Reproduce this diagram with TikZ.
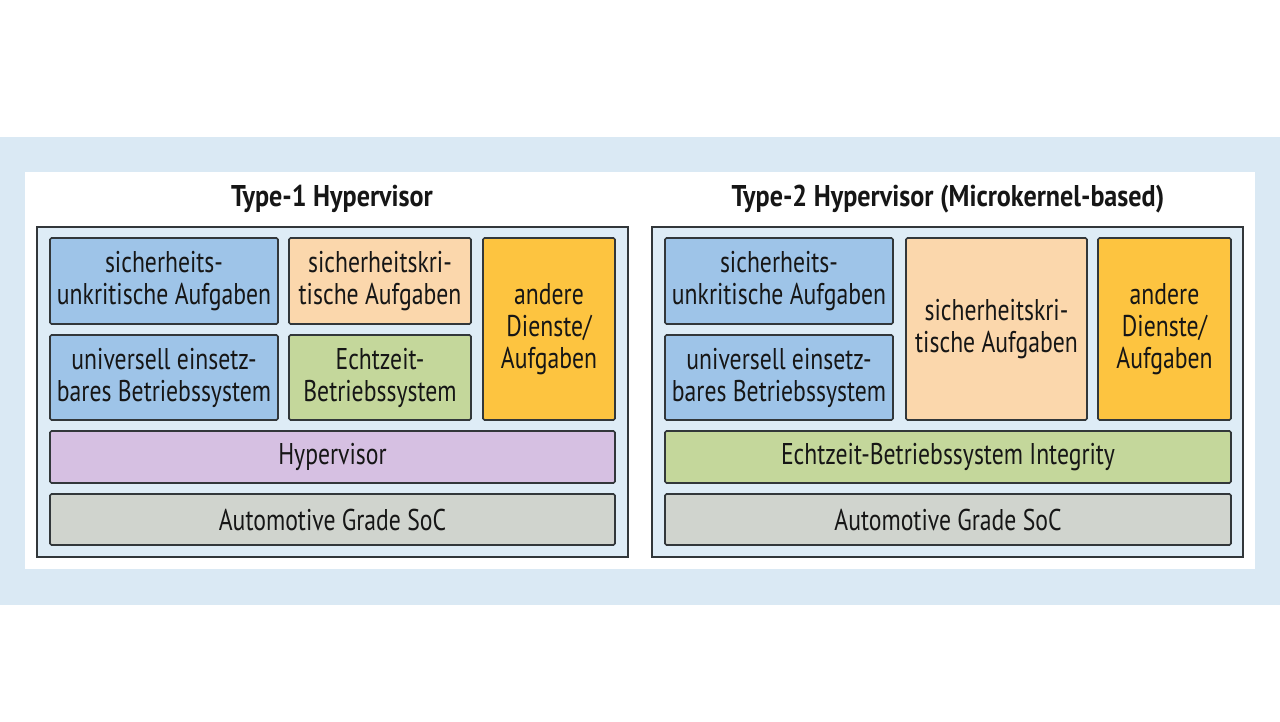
\documentclass[tikz,border=0pt]{standalone}
\usepackage{fontspec}
\setmainfont{PT Sans}[FakeStretch=0.79]
\newfontfamily\titlefont{PT Sans}[FakeStretch=0.87]
\definecolor{bandblue}{RGB}{218,233,244}
\definecolor{panelblue}{RGB}{222,236,246}
\definecolor{boxblue}{RGB}{158,196,232}
\definecolor{boxpeach}{RGB}{251,215,172}
\definecolor{boxorange}{RGB}{253,196,64}
\definecolor{boxgreen}{RGB}{196,215,155}
\definecolor{boxpurple}{RGB}{214,192,226}
\definecolor{boxgray}{RGB}{208,212,206}
\definecolor{edge}{RGB}{50,55,58}
\definecolor{ink}{RGB}{22,22,22}
\tikzset{
  panel/.style={draw=edge, line width=1.4pt, fill=panelblue, inner sep=0pt},
  blk/.style={draw=edge, line width=1.7pt, rounded corners=1.5pt, inner sep=0pt, align=center,
    text=ink, font=\fontsize{30}{32}\selectfont},
  ttl/.style={text=ink, font=\titlefont\fontsize{30}{32}\selectfont\bfseries, inner sep=0pt}
}
\begin{document}
\begin{tikzpicture}[x=1pt,y=-1pt]
\useasboundingbox (0,0) rectangle (1280,721);
\fill[white] (0,0) rectangle (1280,721);
\fill[bandblue] (0,137) rectangle (1280,605);
\fill[white] (25,172) rectangle (1255,569);
% titles
\node[ttl] (t1) at (332,199) {Type-1 Hypervisor};
\node[ttl] (t2) at (948,199) {Type-2 Hypervisor (Microkernel-based)};
% panels
\node[panel, minimum width=591pt, minimum height=330pt] (lp) at (332.5,392) {};
\node[panel, minimum width=591pt, minimum height=330pt] (rp) at (947.5,392) {};
% left panel
\node[blk, fill=boxblue, minimum width=228pt, minimum height=86pt] (a1) at (164,281) {sicherheits-\\unkritische Aufgaben};
\node[blk, fill=boxpeach, minimum width=182pt, minimum height=86pt] (a2) at (380,281) {sicherheitskri-\\tische Aufgaben};
\node[blk, fill=boxorange, minimum width=132pt, minimum height=182pt] (a3) at (549,329) {andere\\Dienste/\\Aufgaben};
\node[blk, fill=boxblue, minimum width=228pt, minimum height=85pt] (a4) at (164,377.5) {universell einsetz-\\bares Betriebssystem};
\node[blk, fill=boxgreen, minimum width=182pt, minimum height=85pt] (a5) at (380,377.5) {Echtzeit-\\Betriebssystem};
\node[blk, fill=boxpurple, minimum width=565pt, minimum height=52pt] (a6) at (332.5,457) {Hypervisor};
\node[blk, fill=boxgray, minimum width=565pt, minimum height=51pt] (a7) at (332.5,519.5) {Automotive Grade SoC};
% right panel
\node[blk, fill=boxblue, minimum width=228pt, minimum height=86pt] (b1) at (779,281) {sicherheits-\\unkritische Aufgaben};
\node[blk, fill=boxblue, minimum width=228pt, minimum height=85pt] (b4) at (779,377.5) {universell einsetz-\\bares Betriebssystem};
\node[blk, fill=boxpeach, minimum width=181pt, minimum height=182pt] (b2) at (996.5,329) {sicherheitskri-\\tische Aufgaben};
\node[blk, fill=boxorange, minimum width=133pt, minimum height=182pt] (b3) at (1164.5,329) {andere\\Dienste/\\Aufgaben};
\node[blk, fill=boxgreen, minimum width=566pt, minimum height=52pt] (b6) at (948,457) {Echtzeit-Betriebssystem Integrity};
\node[blk, fill=boxgray, minimum width=566pt, minimum height=51pt] (b7) at (948,519.5) {Automotive Grade SoC};
\end{tikzpicture}
\end{document}
